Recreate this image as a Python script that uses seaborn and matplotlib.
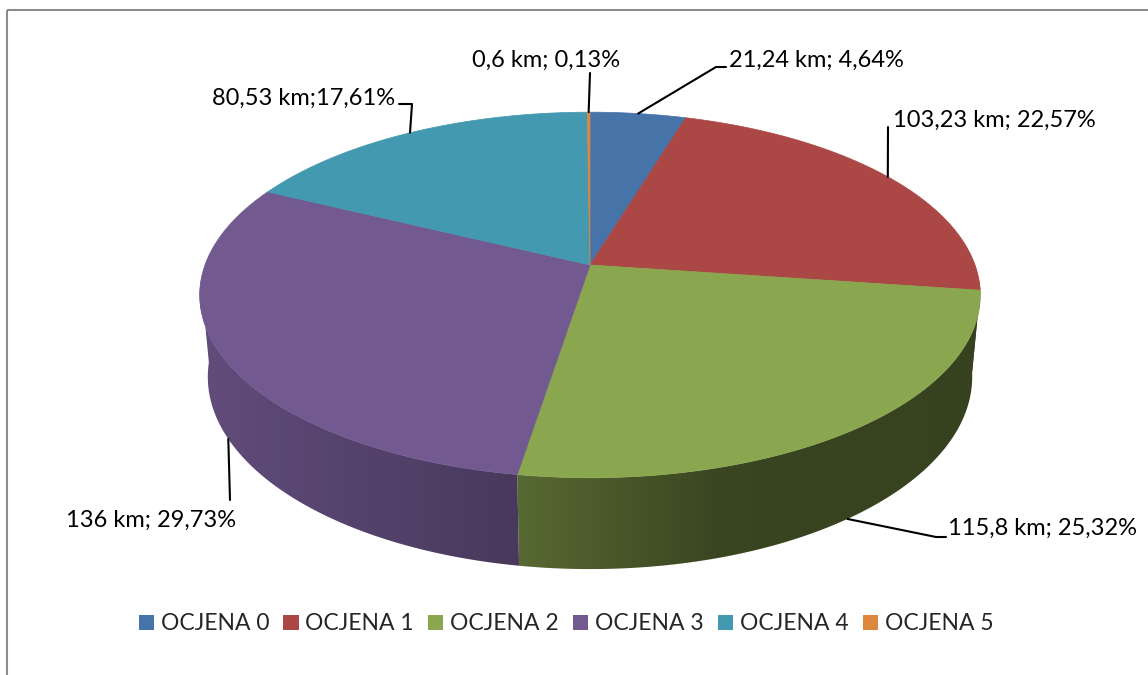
import numpy as np
import matplotlib
matplotlib.use("Agg")
import matplotlib.pyplot as plt
import matplotlib.patches as mpatches
import seaborn as sns

# dane
categories = ["OCJENA 0", "OCJENA 1", "OCJENA 2", "OCJENA 3", "OCJENA 4", "OCJENA 5"]
lengths_km = [21.24, 103.23, 115.8, 136.0, 80.53, 0.6]
label_texts = ["21,24 km; 4,64%", "103,23 km; 22,57%", "115,8 km; 25,32%",
               "136 km; 29,73%", "80,53 km;17,61%", "0,6 km; 0,13%"]
colors = ["#4F81BD", "#C0504D", "#9BBB59", "#8064A2", "#4BACC6", "#F79646"]

sns.set_theme(style="white")
plt.rcParams['font.family'] = ['Lato', 'DejaVu Sans']

# parametry rzutu perspektywicznego (piksele)
CX, CY = 590, 265
SIN_A = 0.462
COS_A = np.sqrt(1 - SIN_A ** 2)
DIST = 5.41
FOC = 2083
THICK = 0.242


def project(theta, y):
    x3 = np.sin(theta)
    z3 = -np.cos(theta)
    depth = DIST - y * SIN_A - z3 * COS_A
    up = y * COS_A - z3 * SIN_A
    return CX + FOC * x3 / depth, CY - FOC * up / depth


def shade(hex_color, f):
    rgb = np.array(matplotlib.colors.to_rgb(hex_color))
    return np.clip(rgb * f, 0, 1)


def wall_factor(x):
    # cieniowanie scianki w zaleznosci od polozenia poziomego
    return np.interp(x, [200, 515, 560, 720, 1000], [0.76, 0.57, 0.52, 0.37, 0.35])


fig = plt.figure(figsize=(11.48, 6.75), dpi=100)
ax = fig.add_axes([0, 0, 1, 1])
ax.set_xlim(0, 1148)
ax.set_ylim(675, 0)
ax.axis('off')

# ramka wykresu
ax.add_patch(mpatches.Rectangle((7, 10), 1300, 800, fill=False,
                                edgecolor='#8c8c8c', lw=1.5, zorder=1))

fractions = np.array(lengths_km) / np.sum(lengths_km)
bounds = np.concatenate([[0], np.cumsum(fractions)]) * 2 * np.pi

# boczne scianki z gradientem
vis_lo, vis_hi = np.radians(95), np.radians(265)
for i, col in enumerate(colors):
    t0, t1 = max(bounds[i], vis_lo), min(bounds[i + 1], vis_hi)
    if t1 <= t0:
        continue
    th = np.linspace(t0, t1, 200)
    xt, yt = project(th, 0)
    xb, yb = project(th, -THICK)
    poly = np.column_stack([np.r_[xt, xb[::-1]], np.r_[yt, yb[::-1]]])
    patch = mpatches.Polygon(poly, closed=True, facecolor='none', edgecolor='none')
    ax.add_patch(patch)
    x0, x1 = poly[:, 0].min() - 2, poly[:, 0].max() + 2
    y0, y1 = poly[:, 1].min() - 2, poly[:, 1].max() + 2
    xs = np.linspace(x0, x1, 400)
    grad = np.array([shade(col, f) for f in wall_factor(xs)])
    img = np.repeat(grad[np.newaxis, :, :], 2, axis=0)
    im = ax.imshow(img, extent=(x0, x1, y1, y0), aspect='auto',
                   interpolation='bilinear', zorder=2)
    im.set_clip_path(patch)

# gorna powierzchnia
for i, col in enumerate(colors):
    th = np.linspace(bounds[i], bounds[i + 1], 200)
    xs, ys = project(th, 0)
    poly = np.column_stack([np.r_[CX, xs], np.r_[CY, ys]])
    ax.add_patch(mpatches.Polygon(poly, closed=True, facecolor=shade(col, 0.89),
                                  edgecolor=shade(col, 0.89), lw=0.5, zorder=3))

# etykiety danych z liniami odniesienia
mids = (bounds[:-1] + bounds[1:]) / 2
anchor_level = [0, 0, -THICK, -THICK, 0, 0]
leader_path = [
    [(716, 67), (726, 67)],
    [(888, 127)],
    [(936, 537), (946, 537)],
    [(230, 500)],
    [(412, 104), (399, 104)],
    [(590, 73)],
]
text_pos = [(729, 60, 'left'), (893, 120, 'left'), (948, 528, 'left'),
            (236, 520, 'right'), (395, 98, 'right'), (546, 60, 'center')]

for i, txt in enumerate(label_texts):
    ax0, ay0 = project(mids[i], anchor_level[i])
    pts = [(ax0, ay0)] + leader_path[i]
    ax.plot([p[0] for p in pts], [p[1] for p in pts], color='black', lw=1.5, zorder=4)
    tx, ty, ha = text_pos[i]
    ax.text(tx, ty, txt, ha=ha, va='center', fontsize=17, color='black', zorder=5)

# legenda
handles = [mpatches.Patch(facecolor=shade(c, 0.89), edgecolor='none') for c in colors]
ax.legend(handles, categories, loc='center', bbox_to_anchor=(566 / 1148, 1 - 624 / 675),
          ncol=6, frameon=False, fontsize=16.5, handlelength=0.66, handleheight=0.66,
          handletextpad=0.3, columnspacing=0.62, borderpad=0)

fig.savefig("out.png", dpi=100)
